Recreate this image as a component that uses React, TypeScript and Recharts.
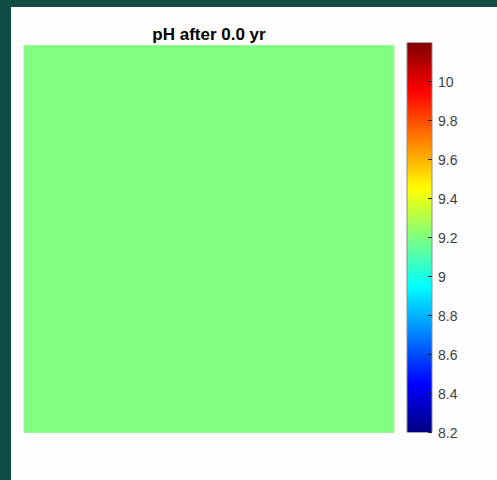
import React from "react";
import { BarChart, Bar, XAxis, YAxis, Cell } from "recharts";

// pH field (uniform at t = 0)
const fieldCells = ["cell"];
const fieldPh = [9.2];

// colour scale
const phMin = 8.2;
const phMax = 10.2;
const phTicks = [8.2, 8.4, 8.6, 8.8, 9, 9.2, 9.4, 9.6, 9.8, 10];

// jet colormap stops: [t, r, g, b]
const jetStops: [number, number, number, number][] = [
  [0, 0, 0, 0.5],
  [0.125, 0, 0, 1],
  [0.375, 0, 1, 1],
  [0.625, 1, 1, 0],
  [0.875, 1, 0, 0],
  [1, 0.5, 0, 0],
];

const W = 497;
const H = 480;
const FONT = "'Liberation Sans', Arial, sans-serif";
const AXIS_W = 40;

const fieldData = fieldCells.map((name, i) => ({ name, ph: fieldPh[i], span: [0, 1] }));
const colorbarData = [{ name: "pH", range: [phMin, phMax] }];

function rgb(r: number, g: number, b: number) {
  const c = (v: number) => Math.round(Math.max(0, Math.min(1, v)) * 255);
  return `rgb(${c(r)},${c(g)},${c(b)})`;
}

function jet(v: number) {
  const t = (v - phMin) / (phMax - phMin);
  for (let i = 1; i < jetStops.length; i++) {
    const [t1, r1, g1, b1] = jetStops[i];
    const [t0, r0, g0, b0] = jetStops[i - 1];
    if (t <= t1) {
      const f = (t - t0) / (t1 - t0);
      return rgb(r0 + (r1 - r0) * f, g0 + (g1 - g0) * f, b0 + (b1 - b0) * f);
    }
  }
  return rgb(0.5, 0, 0);
}

// ticks drawn inward on the right edge of the colorbar
function ColorbarTick(props: any) {
  const { x, y, payload } = props;
  return (
    <g>
      <line x1={x - 4} y1={y} x2={x} y2={y} stroke="#262626" strokeWidth={1} />
      <text
        x={x + 6}
        y={y}
        dy={5}
        fontSize={14}
        fontFamily={FONT}
        fill="#404040"
        textAnchor="start"
      >
        {String(payload.value)}
      </text>
    </g>
  );
}

export default function App() {
  return (
    <div
      style={{
        position: "fixed",
        left: 0,
        top: 0,
        width: W,
        height: H,
        background: "#0e4c44",
        overflow: "hidden",
      }}
    >
      <div
        style={{
          position: "absolute",
          left: 11,
          top: 7,
          width: W - 11,
          height: H - 7,
          background: "#fefefe",
        }}
      />
      <svg style={{ position: "absolute", left: 0, top: 0 }} width={W} height={H}>
        <text
          x={209}
          y={40}
          textAnchor="middle"
          fontSize={17}
          fontWeight="bold"
          fontFamily={FONT}
          fill="#000"
        >
          pH after 0.0 yr
        </text>
      </svg>

      {/* pH field */}
      <div style={{ position: "absolute", left: 0, top: 0 }}>
        <BarChart
          width={W}
          height={H}
          data={fieldData}
          barCategoryGap={0}
          margin={{ top: 45.5, left: 24, right: W - 394, bottom: H - 432.5 }}
        >
          <XAxis dataKey="name" hide />
          <YAxis type="number" domain={[0, 1]} hide />
          <Bar
            dataKey="span"
            stroke="#9cf59c"
            strokeWidth={1}
            isAnimationActive={false}
          >
            {fieldData.map((d) => (
              <Cell key={d.name} fill={jet(d.ph)} />
            ))}
          </Bar>
        </BarChart>
      </div>

      {/* colorbar */}
      <div style={{ position: "absolute", left: 0, top: 0 }}>
        <BarChart
          width={W}
          height={H}
          data={colorbarData}
          barCategoryGap={0}
          margin={{ top: 42.5, left: 407, right: W - 432 - AXIS_W, bottom: H - 432.5 }}
        >
          <defs>
            <linearGradient id="jetGrad" x1="0" y1="1" x2="0" y2="0">
              {jetStops.map(([t, r, g, b]) => (
                <stop key={t} offset={`${t * 100}%`} stopColor={rgb(r, g, b)} />
              ))}
            </linearGradient>
          </defs>
          <XAxis dataKey="name" hide />
          <YAxis
            orientation="right"
            type="number"
            domain={[phMin, phMax]}
            ticks={phTicks}
            interval={0}
            axisLine={false}
            tickLine={false}
            tickSize={0}
            tickMargin={0}
            width={AXIS_W}
            tick={(p: any) => <ColorbarTick {...p} />}
            allowDataOverflow
          />
          <Bar
            dataKey="range"
            fill="url(#jetGrad)"
            stroke="#8c8c8c"
            strokeWidth={1}
            isAnimationActive={false}
          />
        </BarChart>
      </div>
    </div>
  );
}
